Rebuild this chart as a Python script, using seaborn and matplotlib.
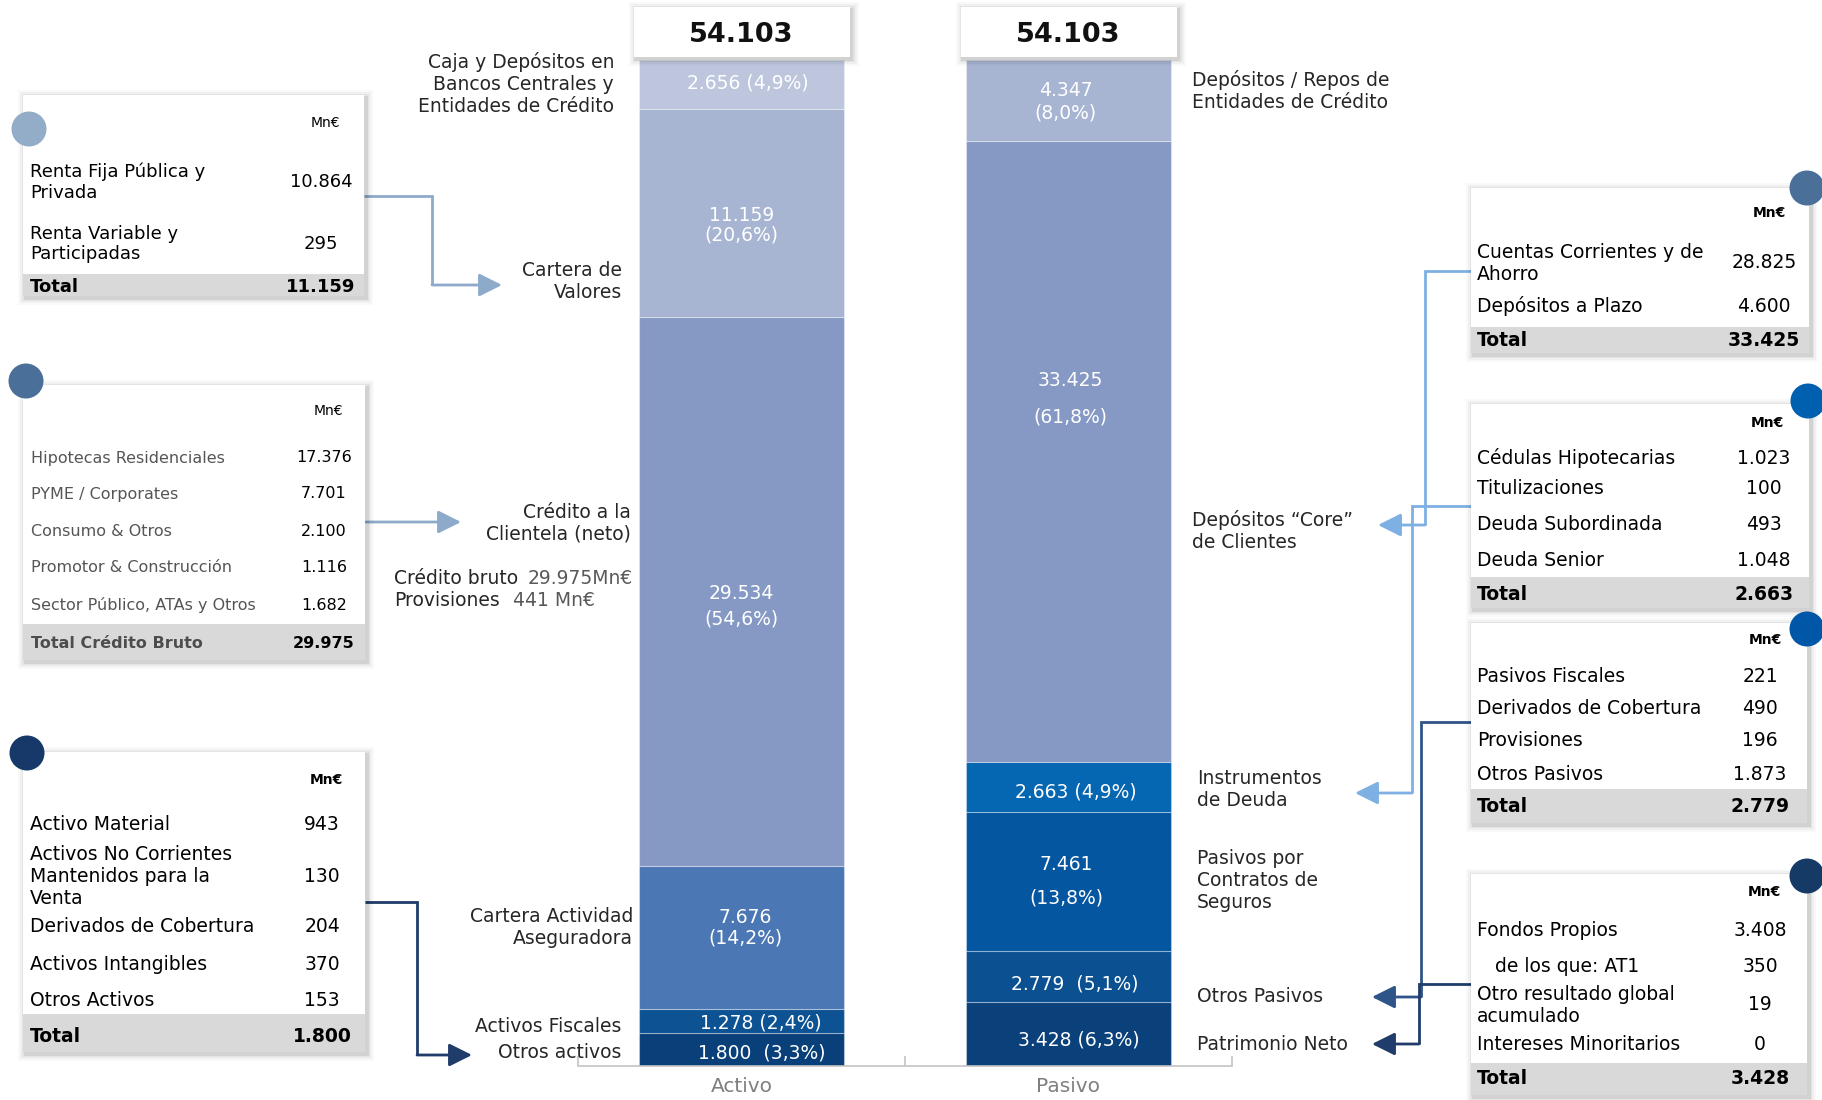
import matplotlib
matplotlib.use("Agg")
import matplotlib.pyplot as plt
import seaborn as sns
from matplotlib.patches import Rectangle, Circle

# ---------------------------------------------------------------- data
categories = ["Activo", "Pasivo"]
balance_total = 54103

# stacked from the bottom of each column
activo_items = ["Otros activos", "Activos Fiscales", "Cartera Actividad Aseguradora",
                "Crédito a la Clientela (neto)", "Cartera de Valores",
                "Caja y Depósitos en Bancos Centrales y Entidades de Crédito"]
activo_values = [1800, 1278, 7676, 29534, 11159, 2656]

pasivo_items = ["Patrimonio Neto", "Otros Pasivos", "Pasivos por Contratos de Seguros",
                "Instrumentos de Deuda", "Depósitos Core de Clientes",
                "Depósitos / Repos de Entidades de Crédito"]
pasivo_values = [3428, 2779, 7461, 2663, 33425, 4347]

securities_items = ["Renta Fija Pública y\nPrivada", "Renta Variable y\nParticipadas"]
securities_values = [10864, 295]
securities_total = 11159

loans_items = ["Hipotecas Residenciales", "PYME / Corporates", "Consumo & Otros",
               "Promotor & Construcción", "Sector Público, ATAs y Otros"]
loans_values = [17376, 7701, 2100, 1116, 1682]
loans_total = 29975
loans_provisions = 441

other_assets_items = ["Activo Material", "Activos No Corrientes\nMantenidos para la\nVenta",
                      "Derivados de Cobertura", "Activos Intangibles", "Otros Activos"]
other_assets_values = [943, 130, 204, 370, 153]
other_assets_total = 1800

deposits_items = ["Cuentas Corrientes y de\nAhorro", "Depósitos a Plazo"]
deposits_values = [28825, 4600]
deposits_total = 33425

debt_items = ["Cédulas Hipotecarias", "Titulizaciones", "Deuda Subordinada", "Deuda Senior"]
debt_values = [1023, 100, 493, 1048]
debt_total = 2663

other_liab_items = ["Pasivos Fiscales", "Derivados de Cobertura", "Provisiones", "Otros Pasivos"]
other_liab_values = [221, 490, 196, 1873]
other_liab_total = 2779

equity_items = ["Fondos Propios", "   de los que: AT1", "Otro resultado global\nacumulado",
                "Intereses Minoritarios"]
equity_values = [3408, 350, 19, 0]
equity_total = 3428

# ---------------------------------------------------------------- styles
activo_colors = ["#0a4079", "#0d5394", "#4b77b4", "#8699c4", "#a7b4d2", "#bdc6dd"]
pasivo_colors = ["#0a417a", "#0b5091", "#0556a1", "#0566b2", "#8699c4", "#a7b4d2"]
activo_sep = ["  ", " ", "\n", "\n", "\n", " "]
pasivo_sep = [" ", "  ", "\n\n", " ", "\n\n", "\n"]
activo_ls = [1.2, 1.2, 1.1, 1.4, 1.05, 1.2]
pasivo_ls = [1.2, 1.2, 0.85, 1.2, 0.95, 1.25]
activo_off = [(20, -4), (19, -2), (4, 10), (0, -15), (0, -12), (6, 2)]
pasivo_off = [(10, -6), (6, -8), (-2, 0), (7, -5), (2, 53), (-3, -1)]

W, H = 1822, 1100
FONT = ["DejaVu Sans"]

sns.set_theme(style="white")
plt.rcParams["font.family"] = FONT


def fmt_int(v):
    return f"{v:,}".replace(",", ".")


def fmt_pct(v, tot):
    return f"({v / tot * 100:.1f}%)".replace(".", ",")


fig = plt.figure(figsize=(W / 100, H / 100), dpi=100)
fig.patch.set_facecolor("white")

# ---------------------------------------------------------------- stacked columns
ax = fig.add_axes([578 / W, 1 - 1066 / H, 654 / W, 1006 / H])
for cat, vals, cols, seps, lss, offs in [
        ("Activo", activo_values, activo_colors, activo_sep, activo_ls, activo_off),
        ("Pasivo", pasivo_values, pasivo_colors, pasivo_sep, pasivo_ls, pasivo_off)]:
    xi = categories.index(cat)
    bottom = 0
    for v, c, sep, ls, off in zip(vals, cols, seps, lss, offs):
        sns.barplot(x=[cat], y=[v], order=categories, color=c, saturation=1,
                    width=0.626, bottom=bottom, errorbar=None, ax=ax,
                    edgecolor=(1, 1, 1, 0.35), linewidth=0.8)
        ax.annotate(fmt_int(v) + sep + fmt_pct(v, balance_total),
                    xy=(xi, bottom + v / 2), xytext=off, textcoords="offset pixels",
                    ha="center", va="center", color="white", fontsize=13.5,
                    linespacing=ls)
        bottom += v

ax.set_xlim(-0.5, 1.5)
ax.set_ylim(0, balance_total)
ax.set_xlabel("")
ax.set_ylabel("")
ax.set_yticks([])
sns.despine(ax=ax, left=True)
ax.spines["bottom"].set_color("#c4c4c4")
ax.spines["bottom"].set_linewidth(1.2)
ax.set_xticks([0, 1])
ax.set_xticklabels(categories, fontsize=14.5, color="#7f7f7f")
ax.tick_params(axis="x", which="major", length=0, pad=8)
ax.set_xticks([-0.5, 0.5, 1.5], minor=True)
ax.tick_params(axis="x", which="minor", bottom=True, length=7, direction="in",
               color="#c4c4c4", width=1.2)
ax.patch.set_alpha(0)

# ---------------------------------------------------------------- overlay (pixel coordinates)
ov = fig.add_axes([0, 0, 1, 1])
ov.set_xlim(0, W)
ov.set_ylim(H, 0)
ov.axis("off")
ov.patch.set_alpha(0)


def card(x0, y0, x1, y1, zorder=2):
    for k, a in [(7, 0.025), (5, 0.035), (3, 0.05), (1.5, 0.07)]:
        ov.add_patch(Rectangle((x0 - k + 2, y0 - k + 2), (x1 - x0) + 2 * k, (y1 - y0) + 2 * k,
                               fc="black", alpha=a, lw=0, zorder=zorder))
    ov.add_patch(Rectangle((x0, y0), x1 - x0, y1 - y0, fc="white", lw=0, zorder=zorder + 0.1))


def table(box, band_y, unit_xy, unit_bold, items, values, rows_y, total_label, total_value,
          total_y, text_x, val_x, fs, circle_xy, circle_color, item_color="black",
          total_color="black", unit_fs=10):
    x0, y0, x1, y1 = box
    card(x0, y0, x1, y1)
    ov.add_patch(Rectangle((x0, band_y), x1 - x0, y1 - band_y, fc="#d9d9d9", lw=0, zorder=2.2))
    ov.text(*unit_xy, "Mn€", ha="center", va="center", fontsize=unit_fs,
            fontweight="bold" if unit_bold else "normal", color="black", zorder=3)
    for name, v, y in zip(items, values, rows_y):
        ov.text(text_x, y, name, ha="left", va="center", fontsize=fs, color=item_color,
                linespacing=1.2, zorder=3)
        ov.text(val_x, y, fmt_int(v), ha="center", va="center", fontsize=fs,
                color="black", zorder=3)
    ov.text(text_x, total_y, total_label, ha="left", va="center", fontsize=fs,
            fontweight="bold", color=total_color, zorder=3)
    ov.text(val_x, total_y, fmt_int(total_value), ha="center", va="center", fontsize=fs,
            fontweight="bold", color="black", zorder=3)
    ov.add_patch(Circle(circle_xy, 17.5, fc=circle_color, lw=0, zorder=4))


# left cards
table((23, 95, 364, 296), 274, (325, 123), False, securities_items, securities_values,
      [182, 244], "Total", securities_total, 287, 30, 321, 13, (29, 129), "#93adc8")
table((23, 385, 365, 660), 624, (328, 411), False, loans_items, loans_values,
      [458, 494, 531, 568, 605], "Total Crédito Bruto", loans_total, 643, 31, 324, 11.5,
      (26, 381), "#4a6f98", item_color="#555555", total_color="#4d4d4d")
table((23, 752, 365, 1052), 1014, (326, 780), True, other_assets_items, other_assets_values,
      [824, 876, 927, 964, 1000], "Total", other_assets_total, 1036, 30, 322, 13.5,
      (27, 753), "#16396a")

# right cards
table((1471, 188, 1809, 353), 327, (1769, 213), True, deposits_items, deposits_values,
      [263, 306], "Total", deposits_total, 340, 1477, 1764, 13.5, (1807, 188), "#4a6f98")
table((1471, 404, 1809, 608), 577, (1767, 423), True, debt_items, debt_values,
      [458, 489, 524, 560], "Total", debt_total, 594, 1477, 1764, 13.5, (1808, 401),
      "#0060b0")
table((1471, 623, 1807, 823), 789, (1765, 640), True, other_liab_items, other_liab_values,
      [676, 709, 741, 774], "Total", other_liab_total, 806, 1477, 1760, 13.5, (1807, 629),
      "#0057a8")
table((1471, 874, 1807, 1095), 1063, (1764, 892), True, equity_items, equity_values,
      [931, 966, 1005, 1045], "Total", equity_total, 1078, 1477, 1760, 13.5, (1807, 876),
      "#163a66")

# total cards above the columns
for i, (cat, vals) in enumerate([("Activo", activo_values), ("Pasivo", pasivo_values)]):
    cx = 578 + (i + 0.5) * 327
    card(cx - 108, 7, cx + 108, 57)
    ov.text(cx, 35, fmt_int(sum(vals)), ha="center", va="center", fontsize=19.5,
            fontweight="bold", color="#111111", zorder=3)

# category labels beside the columns
LFS = 13.5
LLS = 1.2
ov.text(614, 84, "Caja y Depósitos en\nBancos Centrales y\nEntidades de Crédito",
        ha="right", va="center", fontsize=LFS, linespacing=LLS)
ov.text(622, 282, "Cartera de\nValores", ha="right", va="center", fontsize=LFS,
        linespacing=LLS)
ov.text(631, 523, "Crédito a la\nClientela (neto)", ha="right", va="center", fontsize=LFS,
        linespacing=LLS)
ov.text(394, 578, "Crédito bruto", ha="left", va="center", fontsize=LFS)
ov.text(528, 578, fmt_int(loans_total) + "Mn€", ha="left", va="center", fontsize=LFS,
        color="#595959")
ov.text(394, 601, "Provisiones", ha="left", va="center", fontsize=LFS)
ov.text(513, 601, f"{loans_provisions} Mn€", ha="left", va="center", fontsize=LFS,
        color="#595959")
ov.text(633, 928, "Cartera Actividad\nAseguradora", ha="right", va="center", fontsize=LFS,
        linespacing=LLS)
ov.text(621, 1026, "Activos Fiscales", ha="right", va="center", fontsize=LFS)
ov.text(621, 1053, "Otros activos", ha="right", va="center", fontsize=LFS)

ov.text(1192, 91, "Depósitos / Repos de\nEntidades de Crédito", ha="left", va="center",
        fontsize=LFS, linespacing=LLS)
ov.text(1192, 531, "Depósitos “Core”\nde Clientes", ha="left", va="center", fontsize=LFS,
        linespacing=LLS)
ov.text(1197, 790, "Instrumentos\nde Deuda", ha="left", va="center", fontsize=LFS,
        linespacing=LLS)
ov.text(1197, 881, "Pasivos por\nContratos de\nSeguros", ha="left", va="center",
        fontsize=LFS, linespacing=LLS)
ov.text(1197, 996, "Otros Pasivos", ha="left", va="center", fontsize=LFS)
ov.text(1197, 1045, "Patrimonio Neto", ha="left", va="center", fontsize=LFS)


# connectors
def connector(points, color):
    xs = [p[0] for p in points[:-1]]
    ys = [p[1] for p in points[:-1]]
    ov.plot(xs, ys, color=color, lw=2, solid_capstyle="butt", solid_joinstyle="miter",
            zorder=1)
    ov.annotate("", xy=points[-1], xytext=points[-2],
                arrowprops=dict(arrowstyle="-|>,head_length=0.7,head_width=0.35",
                                color=color, lw=2, mutation_scale=20, shrinkA=0, shrinkB=0),
                zorder=1)


connector([(364, 196), (432, 196), (432, 285), (502, 285)], "#8eaacb")
connector([(366, 522), (461, 522)], "#8eaacb")
connector([(365, 902), (417, 902), (417, 1055), (472, 1055)], "#1f3c6a")
connector([(1471, 271), (1425, 271), (1425, 525), (1378, 525)], "#7fb0e3")
connector([(1471, 506), (1412, 506), (1412, 793), (1355, 793)], "#7fb0e3")
connector([(1471, 722), (1421, 722), (1421, 997), (1372, 997)], "#2f5488")
connector([(1471, 984), (1419, 984), (1419, 1044), (1372, 1044)], "#1f3c6a")

fig.savefig("out.png", dpi=100, facecolor="white")
